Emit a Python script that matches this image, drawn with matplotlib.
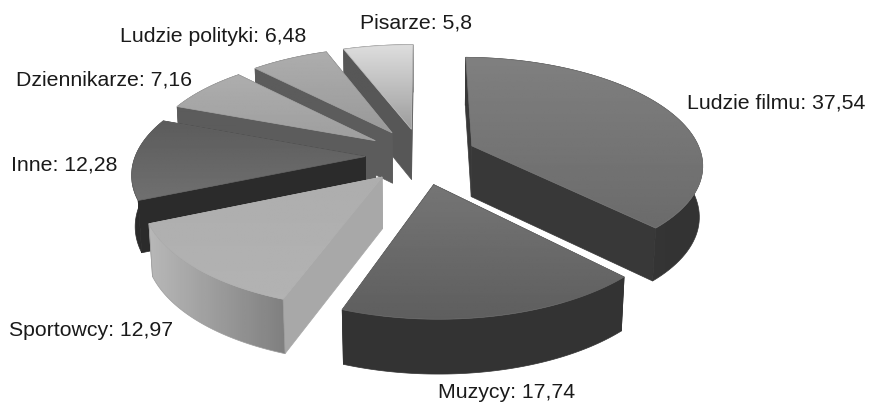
import numpy as np
import matplotlib
matplotlib.use("Agg")
import matplotlib.pyplot as plt
from matplotlib.patches import Polygon

categories = ["Ludzie filmu", "Muzycy", "Sportowcy", "Inne", "Dziennikarze", "Ludzie polityki", "Pisarze"]
values = [37.54, 17.74, 12.97, 12.28, 7.16, 6.48, 5.8]

# styles: (top far grey, top near grey, side grey, rim left grey, rim right grey)
styles = [
    (0.50, 0.42, 0.22, 0.22, 0.20),
    (0.46, 0.37, 0.20, 0.20, 0.20),
    (0.68, 0.70, 0.66, 0.72, 0.50),
    (0.36, 0.44, 0.17, 0.17, 0.17),
    (0.68, 0.62, 0.36, 0.36, 0.36),
    (0.68, 0.60, 0.36, 0.36, 0.36),
    (0.87, 0.62, 0.34, 0.34, 0.34),
]
label_xy = [(687, 103), (438, 392), (9, 331), (11, 165), (16, 80), (120, 36), (360, 23)]

CX, CY, A, B, K, DEPTH, M = 421.0, 156.0, 237.0, 108.0, 0.155, 51.0, 0.012
SHEAR = -3.0
ROT, EXPLODE, EXPLODE_Y, RADIUS = 1.0, 0.235, 0.26, 0.97

plt.rcParams["font.family"] = ["Liberation Sans", "DejaVu Sans"]
fig = plt.figure(figsize=(8.69, 4.03), dpi=100)
ax = fig.add_axes([0, 0, 1, 1])
ax.axis("off")


def project(x, y, h):
    w = 1 + K * y
    ww = w + M * h
    return CX + A * x / ww + SHEAR * y, CY - B * y / ww + DEPTH * h / w ** 0.55


def grad_poly(pts, g0, g1, vertical, z):
    pts = np.asarray(pts)
    poly = Polygon(pts, closed=True, fc="none", ec="none", transform=ax.transData)
    ax.add_patch(poly)
    arr = np.linspace(g0, g1, 64)
    arr = arr[:, None] if vertical else arr[None, :]
    x0, x1, y0, y1 = pts[:, 0].min(), pts[:, 0].max(), pts[:, 1].min(), pts[:, 1].max()
    im = ax.imshow(arr, cmap="gray", vmin=0, vmax=1, extent=(x0, x1, y1, y0),
                   aspect="auto", zorder=z, interpolation="bilinear")
    im.set_clip_path(poly)
    # thin edge of the same tone hides the clip's jagged border
    ax.add_patch(Polygon(pts, closed=True, fc="none", ec=str((g0 + g1) / 2), lw=0.5, zorder=z))


total = sum(values)
angles = np.cumsum([0] + [v / total * 360 for v in values]) + ROT
slices = []
for i in range(len(values)):
    t0, t1 = angles[i], angles[i + 1]
    slices.append((np.cos(np.radians((t0 + t1) / 2)), i, t0, t1))

z = 2
for _, i, t0, t1 in sorted(slices, reverse=True):
    mid = np.radians((t0 + t1) / 2)
    ox, oy = EXPLODE * np.sin(mid), EXPLODE_Y * np.cos(mid)
    th = np.radians(np.linspace(t0, t1, 80))
    xs, ys = ox + RADIUS * np.sin(th), oy + RADIUS * np.cos(th)
    top = np.array([project(x, y, 0) for x, y in zip(xs, ys)])
    bot = np.array([project(x, y, 1) for x, y in zip(xs, ys)])
    at = np.array(project(ox, oy, 0))
    ab = np.array(project(ox, oy, 1))
    gf, gn, gs, gl, gr = styles[i]
    # radial faces
    for idx in (0, -1):
        ax.add_patch(Polygon([at, top[idx], bot[idx], ab], closed=True, fc=str(gs), ec=str(gs),
                             lw=0.5, zorder=z))
        z += 1
    # rim
    grad_poly(np.vstack([top, bot[::-1]]), gl, gr, False, z)
    z += 1
    # top
    grad_poly(np.vstack([at, top]), gf, gn, True, z)
    z += 1

for name, val, (lx, ly) in zip(categories, values, label_xy):
    ax.text(lx, ly, f"{name}: {str(val).replace('.', ',')}", fontsize=15.3, color="#1a1a1a",
            ha="left", va="center", zorder=z)

ax.set_xlim(0, 869)
ax.set_ylim(403, 0)
fig.savefig("out.png", dpi=100, facecolor="white")
